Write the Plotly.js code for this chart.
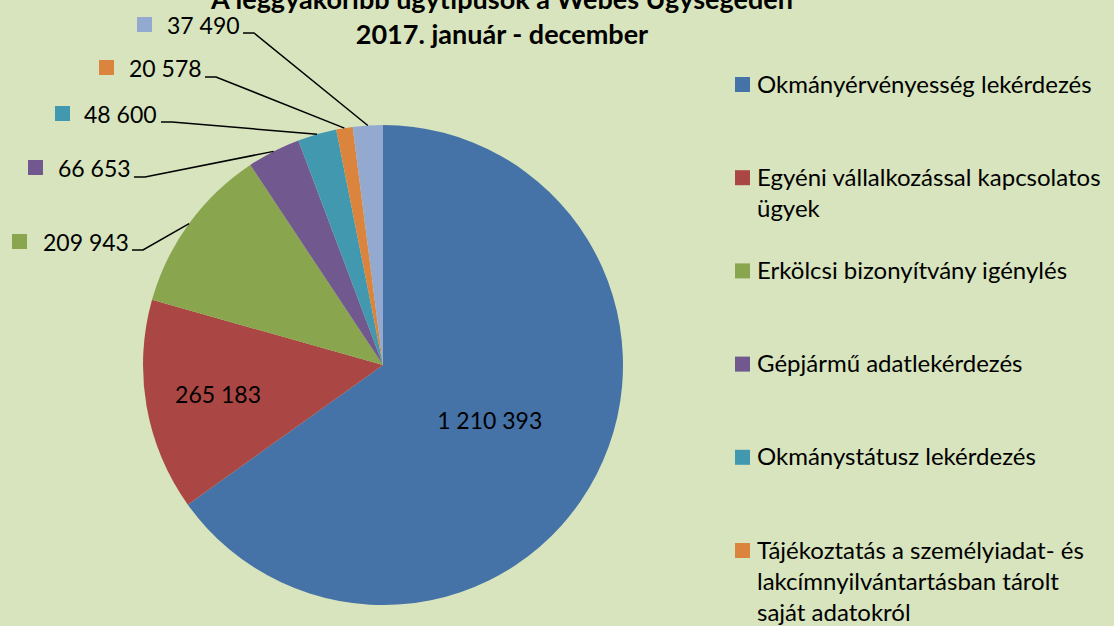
<!DOCTYPE html>
<html>
<head>
<meta charset="utf-8">
<script src="https://cdn.plot.ly/plotly-3.0.1.min.js"></script>
<style>html,body{margin:0;padding:0;background:#D7E4BD;}#chart{width:1114px;height:626px;}</style>
</head>
<body>
<div id="chart"></div>
<script>
// ---- data ----
const categories = [
  "Okmányérvényesség lekérdezés",
  "Egyéni vállalkozással kapcsolatos ügyek",
  "Erkölcsi bizonyítvány igénylés",
  "Gépjármű adatlekérdezés",
  "Okmánystátusz lekérdezés",
  "Tájékoztatás a személyiadat- és lakcímnyilvántartásban tárolt saját adatokról",
  "Egyéb"
];
const legendLabels = [
  "Okmányérvényesség lekérdezés",
  "Egyéni vállalkozással kapcsolatos<br>ügyek",
  "Erkölcsi bizonyítvány igénylés",
  "Gépjármű adatlekérdezés",
  "Okmánystátusz lekérdezés",
  "Tájékoztatás a személyiadat- és<br>lakcímnyilvántartásban tárolt<br>saját adatokról",
  "Egyéb"
];
const values = [1210393, 265183, 209943, 66653, 48600, 20578, 37490];
const colors = ["#4572A7", "#AA4643", "#89A54E", "#71588F", "#4198AF", "#DB843D", "#93A9CF"];
const insideLabel = [true, true, false, false, false, false, false];

// ---- layout geometry (pixels) ----
const W = 1114, H = 626;
const CX = 383, CY = 365, R = 240;
const FONT = "Lato, 'Open Sans', sans-serif";
const FS = 23;      // data labels
const LFS = 24;     // legend
const X = p => p / W, Y = p => 1 - p / H;

// outside label positions: [square left, label center y, text left, leader start x, leader y]
const outsidePos = {
  2: [12, 242, 41, 132, 250],
  3: [28, 168, 56, 134, 177],
  4: [55, 114, 82, 161, 122],
  5: [99, 68, 127, 205, 77],
  6: [137, 25, 165, 243, 33]
};

const fmt = v => v.toString().replace(/\B(?=(\d{3})+(?!\d))/g, " ");

const total = values.reduce((a, b) => a + b, 0);
let cum = 0;
const midAngles = values.map(v => { const m = (cum + v / 2) / total * 2 * Math.PI; cum += v; return m; });

const shapes = [];
const annotations = [];

// outside labels with leader lines
values.forEach((v, i) => {
  if (insideLabel[i]) return;
  const p = outsidePos[i];
  const ex = CX + R * Math.sin(midAngles[i]);
  const ey = CY - R * Math.cos(midAngles[i]);
  shapes.push({type: "rect", xref: "paper", yref: "paper",
    x0: X(p[0]), x1: X(p[0] + 15), y0: Y(p[1] - 8), y1: Y(p[1] + 7),
    fillcolor: colors[i], line: {width: 0}});
  annotations.push({xref: "paper", yref: "paper", x: X(p[2]), y: Y(p[1]),
    xanchor: "left", yanchor: "middle", showarrow: false, text: fmt(v),
    font: {family: FONT, size: FS, color: "#000"}});
  shapes.push({type: "path", xref: "paper", yref: "paper",
    path: `M${X(p[3])},${Y(p[4])} L${X(p[3] + 11)},${Y(p[4])} L${X(ex)},${Y(ey)}`,
    line: {color: "#000", width: 1.5}});
});

// legend (drawn as text + keys)
const LEG_Y0 = 83, LEG_STEP = 93.2, LEG_LH = 1.3 * LFS;
legendLabels.forEach((lab, i) => {
  const cy = LEG_Y0 + i * LEG_STEP;
  const n = lab.split("<br>").length;
  shapes.push({type: "rect", xref: "paper", yref: "paper",
    x0: X(735), x1: X(750), y0: Y(cy - 6), y1: Y(cy + 9),
    fillcolor: colors[i], line: {width: 0}});
  annotations.push({xref: "paper", yref: "paper", x: X(755), y: Y(cy + (n - 1) * LEG_LH / 2),
    xanchor: "left", yanchor: "middle", align: "left", showarrow: false, text: lab,
    font: {family: FONT, size: LFS, color: "#000"}});
});

const trace = {
  type: "pie",
  labels: categories,
  values: values,
  sort: false,
  direction: "clockwise",
  rotation: 0,
  marker: {colors: colors, line: {width: 0}},
  texttemplate: insideLabel.map(b => b ? "%{value:,}" : ""),
  textposition: insideLabel.map(b => b ? "inside" : "none"),
  insidetextorientation: "horizontal",
  insidetextfont: {family: FONT, size: FS, color: "#000"},
  domain: {x: [X(CX - R), X(CX + R)], y: [Y(CY + R), Y(CY - R)]},
  hoverinfo: "label+value+percent",
  showlegend: false
};

const layout = {
  width: W, height: H,
  margin: {l: 0, r: 0, t: 0, b: 0},
  paper_bgcolor: "#D7E4BD",
  plot_bgcolor: "#D7E4BD",
  separators: ", ",
  showlegend: false,
  title: {
    text: "A leggyakoribb ügytípusok a Webes Ügysegéden<br>2017. január - december",
    font: {family: FONT, size: 27, color: "#000", weight: "bold"},
    x: X(502), xanchor: "center", xref: "paper",
    y: Y(9), yanchor: "middle", yref: "container"
  },
  shapes: shapes,
  annotations: annotations
};

Plotly.newPlot("chart", [trace], layout, {displayModeBar: false, staticPlot: true});
</script>
</body>
</html>
